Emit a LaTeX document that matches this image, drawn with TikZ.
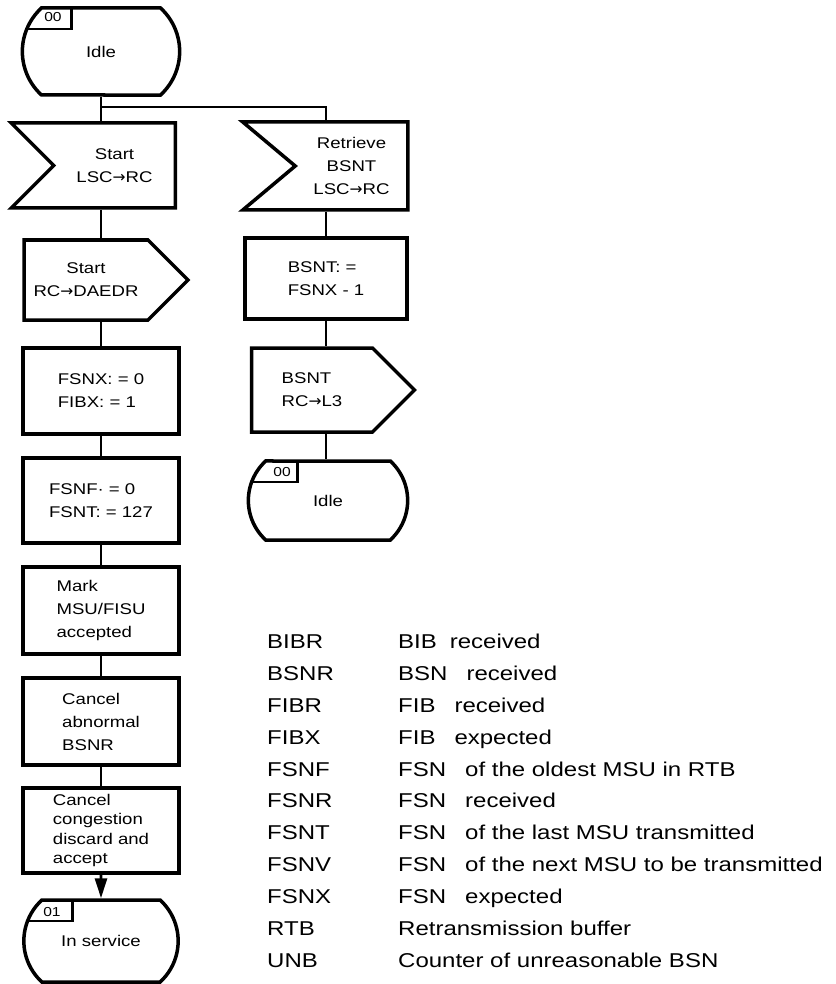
\documentclass[tikz,border=0pt]{standalone}
\usepackage{fontspec}
\setmainfont{Liberation Sans}[FakeStretch=1.2]
\newfontfamily\arrowfont{DejaVu Sans}
\usetikzlibrary{positioning, arrows.meta, shapes.misc, shapes.symbols}

\newcommand{\sig}{{\arrowfont →}}
\newcommand{\gp}{\hspace{19pt}}

\tikzset{
  every node/.style={font=\fontsize{15.5}{23}\selectfont},
  box/.style={draw, line width=3.5pt, rectangle, align=left, inner sep=0pt,
    minimum width=156pt, minimum height=86pt},
  state/.style={draw, line width=3.5pt, rounded rectangle, rounded rectangle arc length=95,
    minimum width=164pt, minimum height=84pt,
    path picture={\draw[line width=2.8pt] ([xshift=52pt]path picture bounding box.north west)
      |- ([yshift=-21pt]path picture bounding box.north west);}},
  inbox/.style={draw, line width=3.5pt, signal, signal from=west, signal to=nowhere,
    signal pointer angle=90, align=center},
  outbox/.style={draw, line width=3.5pt, signal, signal to=east, signal from=nowhere,
    signal pointer angle=90, align=left},
  tagtext/.style={font=\fontsize{13}{15}\selectfont, inner sep=0pt},
  link/.style={line width=2.8pt},
  legend/.style={anchor=base west, inner sep=0pt, font=\fontsize{20}{24}\selectfont}
}

\begin{document}
\begin{tikzpicture}[x=1pt, y=-1pt]
    \useasboundingbox (0,0) rectangle (835,984);

    % Define nodes: left branch
    \node[state, minimum height=87pt] (idleA) at (101,51.5) {Idle};
    \node[inbox, minimum width=164pt, minimum height=85pt] (startA) at (114.5,165.5) {Start\\LSC\sig RC};
    \node[outbox, align=center, minimum width=164pt, minimum height=80pt] (startB) at (86,280) {Start\\RC\sig DAEDR};
    \node[box] (fsnx) at (101,391) {FSNX: = 0\\FIBX: = 1};
    \node[box, minimum height=85pt] (fsnf) at (101,500.5) {FSNF· = 0\\FSNT: = 127};
    \node[box, minimum height=87pt] (mark) at (101,610.5) {Mark\\MSU/FISU\\accepted};
    \node[box, minimum height=87pt] (cancelA) at (101,721.5) {Cancel\\abnormal\\BSNR};
    \node[box, minimum height=85pt, font=\fontsize{15.5}{19.5}\selectfont] (cancelB) at (101,830.5)
        {Cancel\\congestion\\discard and\\accept};
    \node[state, minimum width=161pt, minimum height=82pt] (inserv) at (101,941) {In service};

    % Define nodes: right branch
    \node[inbox, signal pointer angle=80, minimum width=165pt, minimum height=88pt] (retrieveB) at (351.5,166)
        {Retrieve\\BSNT\\LSC\sig RC};
    \node[box, minimum width=162pt, minimum height=81pt] (bsntA) at (326,278.5) {BSNT: =\\FSNX - 1};
    \node[outbox, minimum width=163pt, minimum height=84pt] (bsntB) at (312,390) {BSNT\\RC\sig L3};
    \node[state, minimum width=166pt, minimum height=79pt] (idleB) at (328,500.5) {Idle};

    % State numbers
    \node[tagtext] (tagA) at ([shift={(-48,11)}]idleA.north) {00};
    \node[tagtext] (tagB) at ([shift={(-46,13)}]idleB.north) {00};
    \node[tagtext] (tagC) at ([shift={(-49,14)}]inserv.north) {01};

    % Draw connectors
    \coordinate (split) at (101,107);
    \draw[link] (idleA.south) -- (split) -- (split |- startA.north);
    \draw[link] (split) -| (bsntA.north |- retrieveB.north);
    \draw[link] (startA.south -| fsnx.north) -- (startB.north -| fsnx.north);
    \draw[link] (startB.south -| fsnx.north) -- (fsnx.north);
    \draw[link] (fsnx) -- (fsnf);
    \draw[link] (fsnf) -- (mark);
    \draw[link] (mark) -- (cancelA);
    \draw[link] (cancelA) -- (cancelB);
    \draw[link, -{Triangle[length=20pt, width=12pt]}] (cancelB) -- (inserv);
    \draw[link] (retrieveB.south -| bsntA.north) -- (bsntA.north);
    \draw[link] (bsntA.south) -- (bsntA.south |- bsntB.north);
    \draw[link] (bsntB.south -| bsntA.south) -- (bsntA.south |- idleB.north);

    % Legend
    \node[legend] (lgbibr) at (267,648) {\makebox[131pt][l]{BIBR}BIB\hspace{13pt}received};
    \node[legend] (lgbsnr) at (267,680) {\makebox[131pt][l]{BSNR}BSN\gp received};
    \node[legend] (lgfibr) at (267,712) {\makebox[131pt][l]{FIBR}FIB\gp received};
    \node[legend] (lgfibx) at (267,744) {\makebox[131pt][l]{FIBX}FIB\gp expected};
    \node[legend] (lgfsnf) at (267,776) {\makebox[131pt][l]{FSNF}FSN\gp of the oldest MSU in RTB};
    \node[legend] (lgfsnr) at (267,807) {\makebox[131pt][l]{FSNR}FSN\gp received};
    \node[legend] (lgfsnt) at (267,839) {\makebox[131pt][l]{FSNT}FSN\gp of the last MSU transmitted};
    \node[legend] (lgfsnv) at (267,871) {\makebox[131pt][l]{FSNV}FSN\gp of the next MSU to be transmitted};
    \node[legend] (lgfsnx) at (267,903) {\makebox[131pt][l]{FSNX}FSN\gp expected};
    \node[legend] (lgrtb) at (267,935) {\makebox[131pt][l]{RTB}Retransmission buffer};
    \node[legend] (lgunb) at (267,967) {\makebox[131pt][l]{UNB}Counter of unreasonable BSN};
\end{tikzpicture}
\end{document}
